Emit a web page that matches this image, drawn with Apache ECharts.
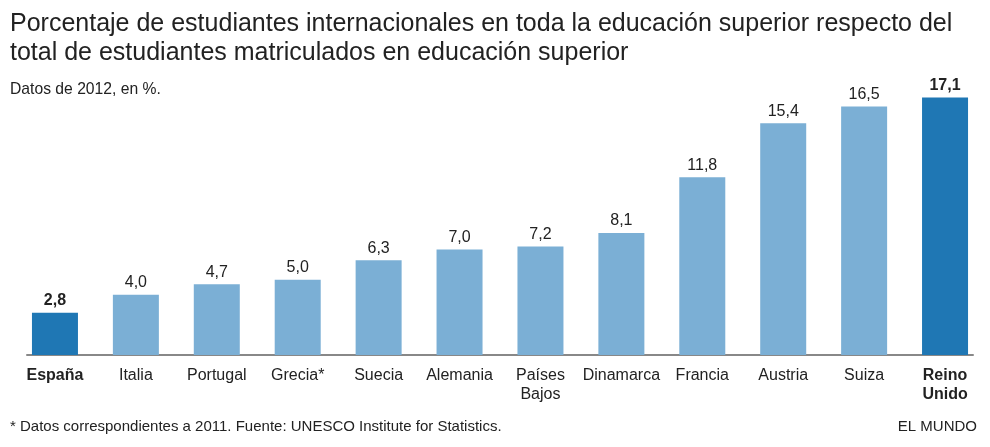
<!DOCTYPE html>
<html>
<head>
<meta charset="utf-8">
<script src="https://cdn.jsdelivr.net/npm/echarts@6/dist/echarts.min.js"></script>
<style>
html,body{margin:0;padding:0;background:#fff;}
#c{width:990px;height:447px;}
</style>
</head>
<body>
<div id="c"></div>
<script>
const categories = ['España','Italia','Portugal','Grecia*','Suecia','Alemania','Países\nBajos','Dinamarca','Francia','Austria','Suiza','Reino\nUnido'];
const values = [2.8, 4.0, 4.7, 5.0, 6.3, 7.0, 7.2, 8.1, 11.8, 15.4, 16.5, 17.1];
const highlighted = ['España','Reino\nUnido'];

const FONT = '"Liberation Sans", Arial, sans-serif';
const LIGHT = '#7bafd5';
const DARK = '#1f77b4';

const chart = echarts.init(document.getElementById('c'));
chart.setOption({
  animation: false,
  backgroundColor: '#fff',
  textStyle: { fontFamily: FONT },
  title: [
    {
      text: 'Porcentaje de estudiantes internacionales en toda la educación superior respecto del\ntotal de estudiantes matriculados en educación superior',
      left: 5, top: 5,
      textStyle: { fontFamily: FONT, fontSize: 25, fontWeight: 'normal', color: '#222', lineHeight: 29 }
    },
    {
      text: 'Datos de 2012, en %.',
      left: 5, top: 77,
      textStyle: { fontFamily: FONT, fontSize: 15.7, fontWeight: 'normal', color: '#222' }
    },
    {
      text: '* Datos correspondientes a 2011. Fuente: UNESCO Institute for Statistics.',
      left: 5, top: 414,
      textStyle: { fontFamily: FONT, fontSize: 15, fontWeight: 'normal', color: '#222' }
    },
    {
      text: 'EL MUNDO',
      right: 8, top: 414,
      textStyle: { fontFamily: FONT, fontSize: 15, fontWeight: 'normal', color: '#222' }
    }
  ],
  grid: [
    { left: 14.5, right: 4.5, top: 84, bottom: 92 },
    { left: 27, right: 17, top: 84, bottom: 92 }
  ],
  xAxis: [
    {
      type: 'category', gridIndex: 0, data: categories,
      axisLine: { show: false }, axisTick: { show: false },
      axisLabel: {
        interval: 0, margin: 11, fontSize: 16, color: '#222', lineHeight: 19, fontFamily: FONT,
        formatter: function (v) {
          return highlighted.indexOf(v) >= 0 ? '{b|' + v.split('\n').join('}\n{b|') + '}' : v;
        },
        rich: { b: { fontWeight: 'bold', fontSize: 16, color: '#222', lineHeight: 19, fontFamily: FONT } }
      }
    },
    {
      type: 'category', gridIndex: 1, data: [''],
      axisLine: { show: true, lineStyle: { color: '#888', width: 2 } },
      axisTick: { show: false }, axisLabel: { show: false }
    }
  ],
  yAxis: [
    { type: 'value', gridIndex: 0, min: 0, max: 18, show: false },
    { type: 'value', gridIndex: 1, min: 0, max: 18, show: false }
  ],
  series: [{
    type: 'bar',
    xAxisIndex: 0, yAxisIndex: 0,
    barWidth: 46,
    data: values.map(function (v, i) {
      const hl = highlighted.indexOf(categories[i]) >= 0;
      return {
        value: v,
        itemStyle: { color: hl ? DARK : LIGHT },
        label: { fontWeight: hl ? 'bold' : 'normal' }
      };
    }),
    label: {
      show: true, position: 'top', distance: 4,
      fontSize: 16, color: '#222', fontFamily: FONT,
      formatter: function (p) { return p.value.toFixed(1).replace('.', ','); }
    },
    z: 1
  }]
});
</script>
</body>
</html>
